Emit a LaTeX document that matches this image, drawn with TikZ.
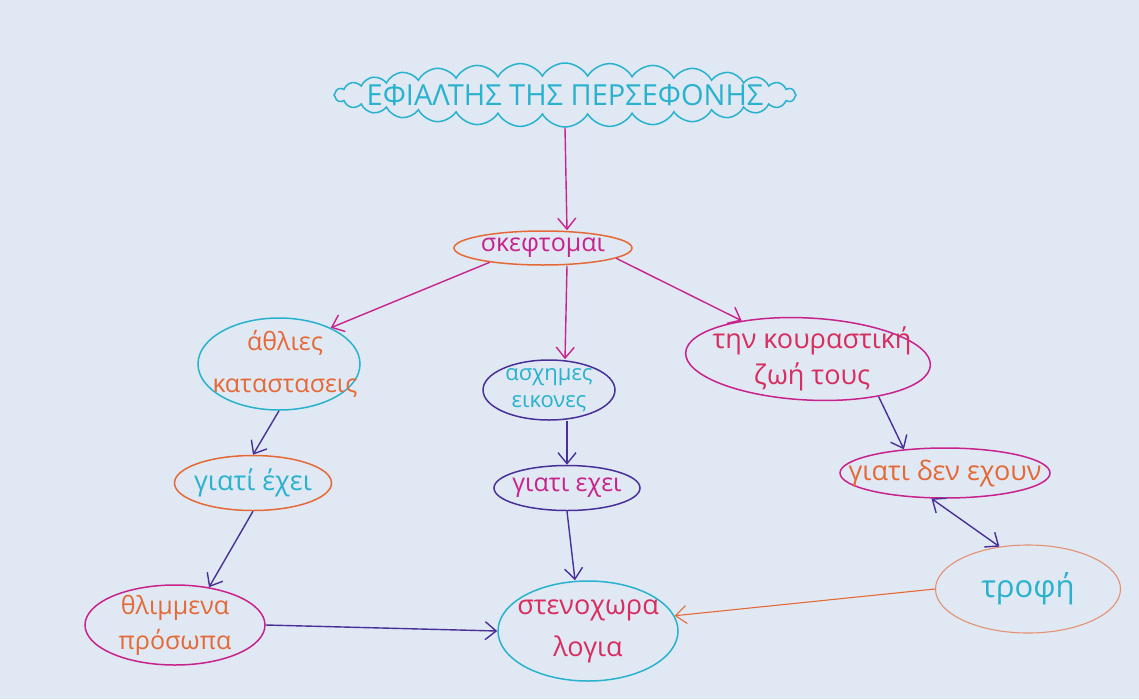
\documentclass[tikz,border=0pt]{standalone}
\usepackage{fontspec}
\setmainfont{Open Sans}
\usetikzlibrary{shapes.geometric,shapes.symbols,arrows.meta}
\definecolor{paper}{RGB}{224,232,243}
\definecolor{cyanpen}{RGB}{40,178,205}
\definecolor{orangepen}{RGB}{228,105,55}
\definecolor{palepen}{RGB}{228,145,115}
\definecolor{magpen}{RGB}{200,35,140}
\definecolor{navypen}{RGB}{72,48,152}
\definecolor{redpen}{RGB}{215,45,95}
\tikzset{
  oval/.style={ellipse, draw=#1, line width=1.5pt, inner sep=0pt},
  word/.style={text=#1, align=center, font=\fontsize{25}{42}\selectfont, inner sep=0pt},
  big/.style={font=\fontsize{27}{42}\selectfont},
  link/.style={draw=#1, line width=1.4pt, -{Straight Barb[length=11pt,width=18pt]}},
  twolink/.style={draw=#1, line width=1.4pt, {Straight Barb[length=11pt,width=18pt]}-{Straight Barb[length=11pt,width=18pt]}},
}
\begin{document}
\begin{tikzpicture}[x=1pt,y=-1pt]
  \fill[paper] (0,0) rectangle (1139,699);
  \useasboundingbox (0,0) rectangle (1139,699);

  % title cloud
  \node[cloud, cloud puffs=32, cloud puff arc=120, aspect=7.5, draw=cyanpen, line width=1.5pt,
        minimum width=462pt, minimum height=64pt, inner sep=0pt] (title) at (565,95) {};
  \node[text=cyanpen, font=\fontsize{29}{36}\selectfont] at (title.center) {ΕΦΙΑΛΤΗΣ ΤΗΣ ΠΕΡΣΕΦΟΝΗΣ};

  % ovals
  \node[oval=orangepen, minimum width=178pt, minimum height=34pt] (sk) at (543,248) {};
  \node[word=magpen] at (sk.center) {σκεφτομαι};

  \node[oval=cyanpen, minimum width=162pt, minimum height=92pt] (ath) at (279,364) {};
  \node[word=orangepen] at ([xshift=6pt]ath.center) {άθλιες\\καταστασεις};

  \node[oval=navypen, minimum width=132pt, minimum height=60pt] (asx) at (549,390) {};
  \node[word=cyanpen, font=\fontsize{22}{27}\selectfont] at (asx.center) {ασχημες\\εικονες};

  \node[oval=magpen, minimum width=245pt, minimum height=82pt, rotate=-3] (kour) at (808,359) {};
  \node[word=redpen, font=\fontsize{27}{36}\selectfont] at ([xshift=4pt]kour.center) {την κουραστική\\ζωή τους};

  \node[oval=orangepen, minimum width=157pt, minimum height=55pt] (gia1) at (253,483) {};
  \node[word=cyanpen, big] at (gia1.center) {γιατί έχει};

  \node[oval=navypen, minimum width=146pt, minimum height=45pt] (gia2) at (567,488) {};
  \node[word=magpen] at (gia2.center) {γιατι εχει};

  \node[oval=magpen, minimum width=210pt, minimum height=50pt] (gia3) at (945,473) {};
  \node[word=orangepen, big] at (gia3.center) {γιατι δεν εχουν};

  \node[oval=magpen, minimum width=180pt, minimum height=80pt] (thl) at (175,625) {};
  \node[word=orangepen, font=\fontsize{25}{35}\selectfont] at (thl.center) {θλιμμενα\\πρόσωπα};

  \node[oval=cyanpen, minimum width=180pt, minimum height=100pt] (sten) at (588,631) {};
  \node[word=redpen, big] at (sten.center) {στενοχωρα\\λογια};

  \node[oval=palepen, line width=1.1pt, minimum width=185pt, minimum height=88pt] (trofi) at (1028,589) {};
  \node[word=cyanpen, font=\fontsize{31}{36}\selectfont] at (trofi.center) {τροφή};

  % connectors
  \draw[link=magpen] (title.south) -- ([xshift=24pt]sk.north);
  \draw[link=magpen] (sk.195) -- (ath.35);
  \draw[link=magpen] ([xshift=24pt]sk.south) -- ([xshift=16pt]asx.north);
  \draw[link=magpen] (sk.-8) -- (kour.153);

  \draw[link=navypen] (ath.south) -- (gia1.north);
  \draw[link=navypen] ([xshift=18pt]asx.south) -- (gia2.north);
  \draw[link=navypen] (kour.-25) -- (gia3.150);

  \draw[link=navypen] (gia1.south) -- (thl.48);
  \draw[link=navypen] (gia2.south) -- ([xshift=-13pt]sten.north);
  \draw[link=navypen] (thl.east) -- (sten.west);
  \draw[twolink=navypen] (gia3.242) -- (trofi.124);
  \draw[link=orangepen, line width=1.1pt] (trofi.west) -- (sten.10);
\end{tikzpicture}
\end{document}
